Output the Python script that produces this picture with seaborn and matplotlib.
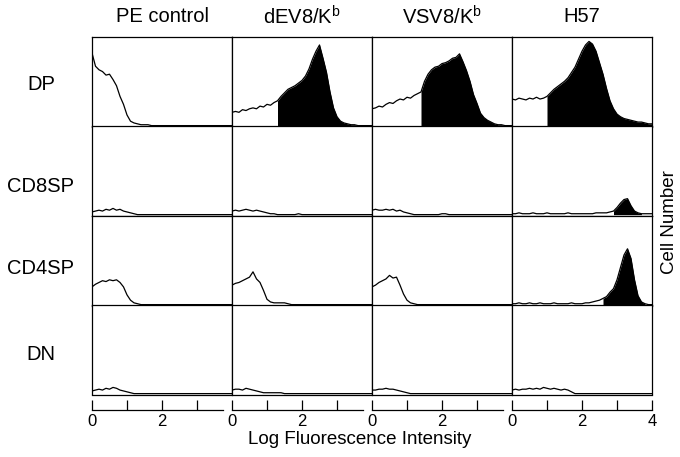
import numpy as np
import matplotlib
matplotlib.use('Agg')
import matplotlib.pyplot as plt
import seaborn as sns

# log fluorescence channels (0.0 .. 4.0)
log_intensity = np.round(np.linspace(0, 4, 41), 1)

columns = ['PE control', 'dEV8/K$^\\mathregular{b}$', 'VSV8/K$^\\mathregular{b}$', 'H57']
rows = ['DP', 'CD8SP', 'CD4SP', 'DN']

# cell number, % of panel height
dp_pe = [82, 67, 63, 61, 57, 58, 52, 45, 33, 24,
         12, 5, 3, 2, 1, 1, 1, 0, 0, 0,
         0, 0, 0, 0, 0, 0, 0, 0, 0, 0,
         0, 0, 0, 0, 0, 0, 0, 0, 0, 0,
         0]
dp_dev8 = [15, 16, 15, 18, 17, 19, 20, 19, 22, 21,
           24, 23, 26, 28, 33, 37, 41, 43, 45, 48,
           51, 56, 64, 75, 84, 91, 76, 60, 38, 20,
           10, 5, 3, 2, 1, 1, 0, 0, 0, 0,
           0]
dp_vsv8 = [19, 20, 22, 21, 24, 26, 25, 28, 30, 29,
           32, 31, 34, 36, 38, 50, 58, 63, 66, 67,
           70, 71, 73, 76, 77, 81, 72, 62, 50, 35,
           25, 14, 9, 6, 4, 2, 1, 1, 0, 0,
           0]
dp_h57 = [30, 29, 31, 30, 29, 31, 30, 32, 30, 31,
          33, 37, 41, 44, 47, 50, 54, 60, 66, 75,
          84, 91, 95, 92, 84, 71, 58, 42, 28, 19,
          13, 10, 8, 7, 6, 5, 4, 4, 3, 2,
          2]

cd8_pe = [3, 4, 5, 4, 6, 5, 7, 5, 6, 4,
          3, 2, 1, 0, 0, 0, 0, 0, 0, 0,
          0, 0, 0, 0, 0, 0, 0, 0, 0, 0,
          0, 0, 0, 0, 0, 0, 0, 0, 0, 0,
          0]
cd8_dev8 = [4, 5, 4, 5, 6, 5, 4, 5, 4, 3,
            2, 1, 1, 0, 0, 0, 0, 0, 0, 1,
            0, 0, 0, 0, 0, 0, 0, 0, 0, 0,
            0, 0, 0, 0, 0, 0, 0, 0, 0, 0,
            0]
cd8_vsv8 = [5, 6, 5, 5, 6, 5, 6, 4, 5, 3,
            2, 1, 0, 0, 0, 0, 0, 0, 0, 0,
            1, 1, 0, 0, 0, 0, 0, 0, 0, 0,
            0, 0, 0, 0, 0, 0, 0, 0, 0, 0,
            0]
cd8_h57 = [1, 1, 2, 1, 1, 1, 2, 1, 1, 1,
           2, 1, 1, 1, 1, 1, 2, 1, 1, 1,
           1, 1, 1, 1, 2, 2, 2, 2, 3, 4,
           8, 13, 17, 18, 10, 4, 2, 1, 1, 1,
           1]

cd4_pe = [20, 23, 25, 27, 26, 28, 27, 28, 25, 20,
          11, 5, 2, 1, 0, 0, 0, 0, 0, 0,
          0, 0, 0, 0, 0, 0, 0, 0, 0, 0,
          0, 0, 0, 0, 0, 0, 0, 0, 0, 0,
          0]
cd4_dev8 = [22, 24, 25, 27, 29, 31, 37, 29, 25, 16,
            6, 3, 2, 2, 2, 2, 1, 0, 0, 0,
            0, 0, 0, 0, 0, 0, 0, 0, 0, 0,
            0, 0, 0, 0, 0, 0, 0, 0, 0, 0,
            0]
cd4_vsv8 = [20, 22, 25, 27, 29, 33, 30, 31, 22, 12,
            5, 2, 1, 0, 0, 0, 0, 0, 0, 0,
            0, 0, 0, 0, 0, 0, 0, 0, 0, 0,
            0, 0, 0, 0, 0, 0, 0, 0, 0, 0,
            0]
cd4_h57 = [1, 1, 2, 1, 1, 2, 1, 1, 2, 1,
           1, 1, 2, 1, 1, 1, 1, 2, 1, 1,
           1, 2, 2, 3, 4, 5, 7, 9, 14, 18,
           28, 42, 56, 63, 52, 28, 10, 3, 1, 0,
           0]

dn_pe = [3, 4, 5, 4, 6, 5, 7, 6, 4, 3,
         2, 1, 0, 0, 0, 0, 0, 0, 0, 0,
         0, 0, 0, 0, 0, 0, 0, 0, 0, 0,
         0, 0, 0, 0, 0, 0, 0, 0, 0, 0,
         0]
dn_dev8 = [4, 5, 5, 4, 6, 5, 4, 3, 2, 1,
           1, 1, 1, 1, 1, 0, 0, 0, 0, 0,
           0, 0, 0, 0, 0, 0, 0, 0, 0, 0,
           0, 0, 0, 0, 0, 0, 0, 0, 0, 0,
           0]
dn_vsv8 = [4, 4, 5, 5, 6, 5, 5, 4, 3, 2,
           1, 0, 0, 0, 0, 0, 0, 0, 0, 0,
           0, 0, 0, 0, 0, 0, 0, 0, 0, 0,
           0, 0, 0, 0, 0, 0, 0, 0, 0, 0,
           0]
dn_h57 = [4, 5, 4, 5, 5, 6, 5, 6, 5, 7,
          6, 5, 6, 5, 4, 5, 4, 2, 0, 0,
          0, 0, 0, 0, 0, 0, 0, 0, 0, 0,
          0, 0, 0, 0, 0, 0, 0, 0, 0, 0,
          0]

panels = [[dp_pe, dp_dev8, dp_vsv8, dp_h57],
          [cd8_pe, cd8_dev8, cd8_vsv8, cd8_h57],
          [cd4_pe, cd4_dev8, cd4_vsv8, cd4_h57],
          [dn_pe, dn_dev8, dn_vsv8, dn_h57]]

# positive gates (filled region), (start, end) in log units
gates = {(0, 1): (1.3, 4.0), (0, 2): (1.4, 4.0), (0, 3): (1.0, 4.0),
         (1, 3): (2.9, 3.7), (2, 3): (2.6, 3.8)}

sns.set_theme(style='white')
plt.rcParams['font.family'] = ['Liberation Sans', 'DejaVu Sans']
plt.rcParams['text.color'] = 'black'
plt.rcParams['xtick.color'] = 'black'

W, H = 680, 457
fig = plt.figure(figsize=(6.8, 4.57), dpi=100)

col_left = [92, 232, 372, 512]
pw = 140
row_top = [37, 126, 216, 305]
ph = 89.5

def px_axes(l, t, w, h):
    return fig.add_axes([l / W, 1 - (t + h) / H, w / W, h / H])

for r in range(4):
    for c in range(4):
        ax = px_axes(col_left[c], row_top[r], pw, ph)
        y = np.array(panels[r][c], dtype=float)
        sns.lineplot(x=log_intensity, y=y, ax=ax, color='black', lw=0.9,
                     estimator=None)
        if (r, c) in gates:
            g0, g1 = gates[(r, c)]
            m = (log_intensity >= g0 - 1e-9) & (log_intensity <= g1 + 1e-9)
            ax.fill_between(log_intensity[m], y[m], color='black', lw=0)
        ax.set_xlim(0, 4)
        ax.set_ylim(-1, 100)
        ax.set_xticks([])
        ax.set_yticks([])
        ax.set_xlabel('')
        ax.set_ylabel('')
        for s in ax.spines.values():
            s.set_color('black')
            s.set_linewidth(0.9)

# broken log axis under each column
for c in range(4):
    axx = px_axes(col_left[c], 409, pw, 1)
    axx.set_xlim(0, 4)
    axx.set_ylim(0, 1)
    axx.patch.set_alpha(0)
    for s in ['top', 'left', 'right']:
        axx.spines[s].set_visible(False)
    axx.spines['bottom'].set_color('black')
    axx.spines['bottom'].set_linewidth(0.9)
    if c < 3:
        axx.spines['bottom'].set_bounds(0, 3.75)
        axx.set_xticks([0, 1, 2, 3])
        axx.set_xticklabels(['0', '', '2', ''])
    else:
        axx.spines['bottom'].set_bounds(0, 4)
        axx.set_xticks([0, 1, 2, 3, 4])
        axx.set_xticklabels(['0', '', '2', '', '4'])
    axx.set_yticks([])
    axx.tick_params(axis='x', direction='in', length=7, width=0.9, color='black',
                    labelsize=12, pad=3, bottom=True)

for c, name in enumerate(columns):
    fig.text((col_left[c] + pw / 2) / W, 1 - 17 / H, name, ha='center', va='center',
             fontsize=14.5)

row_label_y = [85, 187, 268, 355]
for r, name in enumerate(rows):
    fig.text(41 / W, 1 - row_label_y[r] / H, name, ha='center', va='center', fontsize=14.5)

fig.text(360 / W, 1 - 440 / H, 'Log Fluorescence Intensity', ha='center', va='center',
         fontsize=13.5)
fig.text(670 / W, 1 - 222 / H, 'Cell Number', ha='center', va='center', rotation=90,
         fontsize=13.5)

fig.savefig('out.png', dpi=100)
